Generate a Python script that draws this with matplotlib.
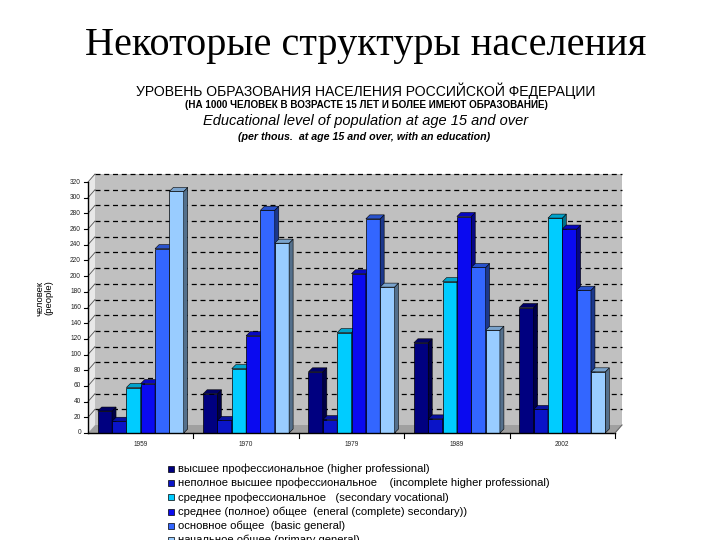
import matplotlib
matplotlib.use("Agg")
import matplotlib.pyplot as plt
from matplotlib.patches import Polygon, Rectangle
import matplotlib.colors as mcolors
import numpy as np

years = ["1959", "1970", "1979", "1989", "2002"]
series_names = [
    "высшее профессиональное (higher professional)",
    "неполное высшее профессиональное    (incomplete higher professional)",
    "среднее профессиональное   (secondary vocational)",
    "среднее (полное) общее  (eneral (complete) secondary))",
    "основное общее  (basic general)",
    "начальное общее (primary general)",
]
higher = [28, 50, 78, 115, 160]
incomplete = [15, 16, 17, 18, 30]
secondary_voc = [58, 82, 128, 193, 274]
general_sec = [63, 124, 203, 276, 260]
basic_general = [235, 284, 273, 211, 182]
primary_general = [308, 242, 186, 131, 78]
series = [higher, incomplete, secondary_voc, general_sec, basic_general, primary_general]
colors = ["#000080", "#0a14c8", "#00ccff", "#0a0af0", "#3366ff", "#99ccff"]
yticks = list(range(0, 321, 20))

W, H = 720, 540
fig = plt.figure(figsize=(7.2, 5.4), dpi=100)
fig.patch.set_facecolor("white")

x0p, x1p, y0p, y1p = 88, 615, 433, 182
ax = fig.add_axes([x0p / W, 1 - y0p / H, (x1p - x0p) / W, (y0p - y1p) / H])
ax.set_xlim(-0.5, 4.5)
ax.set_ylim(0, 320)
ax.axis("off")

pxx = 5.0 / (x1p - x0p)
pxy = 320.0 / (y0p - y1p)
wdx, wdy = 7 * pxx, 8 * pxy   # wall depth
bdx, bdy = 4 * pxx, 4 * pxy   # bar depth

# back wall
ax.add_patch(Polygon([(-0.5 + wdx, wdy), (4.5 + wdx, wdy), (4.5 + wdx, 320 + wdy), (-0.5 + wdx, 320 + wdy)],
                     closed=True, facecolor="#c0c0c0", edgecolor="none", clip_on=False, zorder=0))
# floor
ax.add_patch(Polygon([(-0.5, 0), (4.5, 0), (4.5 + wdx, wdy), (-0.5 + wdx, wdy)],
                     closed=True, facecolor="#a0a0a0", edgecolor="none", clip_on=False, zorder=0.5))
# side wall
ax.add_patch(Polygon([(-0.5, 0), (-0.5 + wdx, wdy), (-0.5 + wdx, 320 + wdy), (-0.5, 320)],
                     closed=True, facecolor="#e8e8e8", edgecolor="none", clip_on=False, zorder=0.4))
# gridlines
for t in yticks[1:]:
    ax.plot([-0.5 + wdx, 4.5 + wdx], [t + wdy, t + wdy], color="black", lw=0.9,
            linestyle=(0, (4, 3)), clip_on=False, zorder=1)
    ax.plot([-0.5, -0.5 + wdx], [t, t + wdy], color="#555555", lw=0.6, clip_on=False, zorder=1)

# bars
bw = 0.136
xs = np.arange(len(years))
for i, (vals, c) in enumerate(zip(series, colors)):
    xpos = xs - 3 * bw + (i + 0.5) * bw
    ax.bar(xpos, vals, width=bw, color=c, edgecolor="black", linewidth=0.5, zorder=3 + i * 0.1)
    rgb = np.array(mcolors.to_rgb(c))
    side = rgb * 0.55
    top = rgb * 0.8
    for xc, v in zip(xpos, vals):
        l, r = xc - bw / 2, xc + bw / 2
        ax.add_patch(Polygon([(r, 0), (r + bdx, bdy), (r + bdx, v + bdy), (r, v)], closed=True,
                             facecolor=side, edgecolor="black", lw=0.4, zorder=3 + i * 0.1, clip_on=False))
        ax.add_patch(Polygon([(l, v), (r, v), (r + bdx, v + bdy), (l + bdx, v + bdy)], closed=True,
                             facecolor=top, edgecolor="black", lw=0.4, zorder=3 + i * 0.1, clip_on=False))

# axes lines
ax.plot([-0.5, -0.5], [0, 320], color="black", lw=1.0, clip_on=False, zorder=5)
ax.plot([-0.5, 4.5], [0, 0], color="black", lw=1.0, clip_on=False, zorder=5)
ax.plot([4.5, 4.5 + wdx], [0, wdy], color="#666666", lw=0.8, clip_on=False, zorder=5)
for t in yticks:
    ax.plot([-0.5 - 4 * pxx, -0.5], [t, t], color="black", lw=0.8, clip_on=False, zorder=5)
    ax.text(-0.5 - 7 * pxx, t, str(t), ha="right", va="center", fontsize=4.7,
            family="Liberation Sans", color="#222222")
for b in np.arange(0.5, 5.0, 1.0):
    ax.plot([b, b], [0, -5 * pxy], color="black", lw=0.8, clip_on=False, zorder=5)
for xc, yr in zip(xs, years):
    ax.text(xc, -12 * pxy, yr, ha="center", va="center", fontsize=4.7,
            family="Liberation Sans", color="#222222")

# y label
fig.text(40 / W, 1 - 298 / H, "человек", rotation=90, ha="center", va="center",
         fontsize=6.8, family="Liberation Sans")
fig.text(49 / W, 1 - 298 / H, "(people)", rotation=90, ha="center", va="center",
         fontsize=6.8, family="Liberation Sans")

# titles
fig.text(366 / W, 1 - 45 / H, "Некоторые структуры населения", ha="center", va="center",
         fontsize=29, family="Liberation Serif")
fig.text(366 / W, 1 - 91 / H, "УРОВЕНЬ ОБРАЗОВАНИЯ НАСЕЛЕНИЯ РОССИЙСКОЙ ФЕДЕРАЦИИ",
         ha="center", va="center", fontsize=10.1, family="Liberation Sans")
fig.text(366 / W, 1 - 105.5 / H, "(НА 1000 ЧЕЛОВЕК В ВОЗРАСТЕ 15 ЛЕТ И БОЛЕЕ ИМЕЮТ ОБРАЗОВАНИЕ)",
         ha="center", va="center", fontsize=7.1, family="Liberation Sans", weight="bold")
fig.text(366 / W, 1 - 121 / H, "Educational level of population at age 15 and over",
         ha="center", va="center", fontsize=10.5, family="Liberation Sans", style="italic")
fig.text(364 / W, 1 - 137 / H, "(per thous.  at age 15 and over, with an education)",
         ha="center", va="center", fontsize=7.7, family="Liberation Sans", style="italic", weight="bold")

# legend
ly0 = 469
for i, (name, c) in enumerate(zip(series_names, colors)):
    yy = ly0 + i * 14.2
    fig.patches.append(Rectangle((168 / W, 1 - (yy + 3) / H), 6 / W, 6 / H,
                                 transform=fig.transFigure, facecolor=c,
                                 edgecolor="black", lw=0.5))
    fig.text(178 / W, 1 - yy / H, name, ha="left", va="center", fontsize=8.1,
             family="Liberation Sans")

fig.savefig("out.png", dpi=100)
